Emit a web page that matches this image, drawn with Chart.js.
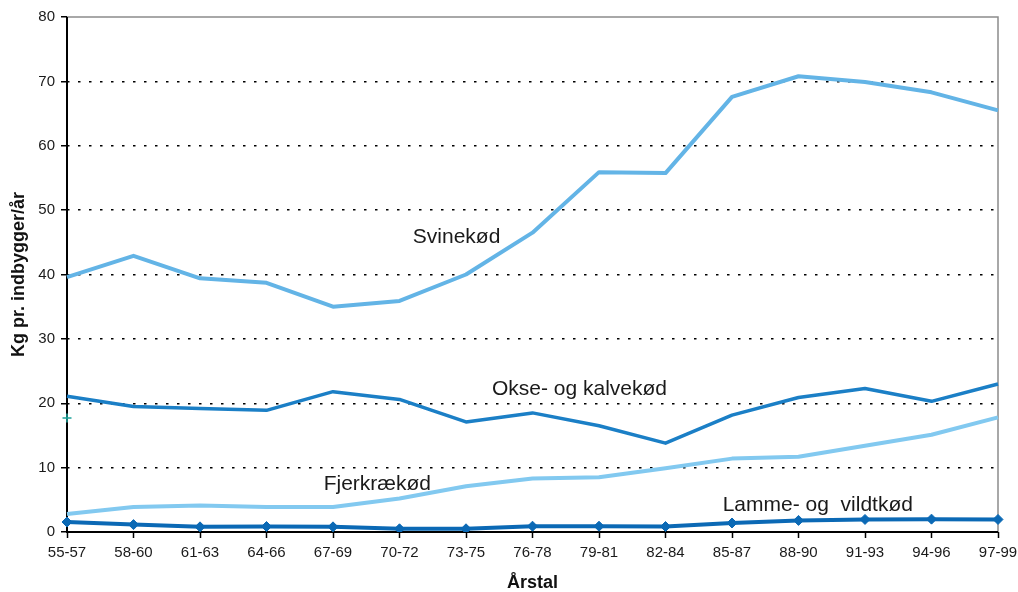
<!DOCTYPE html>
<html>
<head>
<meta charset="utf-8">
<script src="https://cdn.jsdelivr.net/npm/chart.js@4/dist/chart.umd.min.js"></script>
<style>
  html, body { margin: 0; padding: 0; background: #ffffff; }
  canvas { display: block; }
</style>
</head>
<body>
<canvas id="chart" width="1018" height="592"></canvas>
<script>
// Meat consumption per inhabitant, three-year averages
const periods = ['55-57', '58-60', '61-63', '64-66', '67-69', '70-72', '73-75', '76-78',
                 '79-81', '82-84', '85-87', '88-90', '91-93', '94-96', '97-99'];
const svinekod  = [39.6, 42.9, 39.4, 38.7, 35.0, 35.9, 40.0, 46.5, 55.9, 55.75, 67.6, 70.8, 69.9, 68.3, 65.5];
const oksekod   = [21.1, 19.5, 19.2, 18.9, 21.8, 20.6, 17.1, 18.5, 16.5, 13.8, 18.15, 20.9, 22.3, 20.3, 23.0];
const fjerkrae  = [2.8, 3.9, 4.1, 3.9, 3.9, 5.2, 7.1, 8.3, 8.5, 9.9, 11.4, 11.7, 13.4, 15.1, 17.8];
const lammekod  = [1.55, 1.15, 0.8, 0.85, 0.8, 0.5, 0.5, 0.9, 0.9, 0.85, 1.4, 1.8, 1.95, 2.0, 1.95];
const enkeltPunkt = [17.7, null, null, null, null, null, null, null, null, null, null, null, null, null, null];
const yTicks = [0, 10, 20, 30, 40, 50, 60, 70, 80];

const seriesNames = ['Svinekød', 'Okse- og kalvekød', 'Fjerkrækød', 'Lamme- og  vildtkød'];
// where each series name is written: [category index, value]
const nameAnchors = [[5.2, 45.8], [6.39, 22.2], [3.86, 7.5], [9.86, 4.2]];

const frameAndNames = {
  id: 'frameAndNames',
  beforeDatasetsDraw(chart) {
    const { ctx, chartArea: a } = chart;
    ctx.save();
    // grey frame on top and right
    ctx.strokeStyle = '#8c8c8c';
    ctx.lineWidth = 1.5;
    ctx.beginPath();
    ctx.moveTo(a.left, a.top);
    ctx.lineTo(a.right, a.top);
    ctx.lineTo(a.right, a.bottom);
    ctx.stroke();
    // black axes on left and bottom
    ctx.strokeStyle = '#000000';
    ctx.lineWidth = 2;
    ctx.beginPath();
    ctx.moveTo(a.left, a.top);
    ctx.lineTo(a.left, a.bottom);
    ctx.lineTo(a.right, a.bottom);
    ctx.stroke();
    ctx.restore();
  },
  afterDraw(chart) {
    const { ctx, scales } = chart;
    ctx.save();
    ctx.font = '21px "Liberation Sans", Arial, sans-serif';
    ctx.fillStyle = '#1a1a1a';
    ctx.textAlign = 'left';
    ctx.textBaseline = 'middle';
    seriesNames.forEach((name, i) => {
      const [ix, v] = nameAnchors[i];
      ctx.fillText(name, scales.x.getPixelForValue(ix), scales.y.getPixelForValue(v));
    });
    ctx.restore();
  }
};

const lineBase = { tension: 0, pointRadius: 0, pointHoverRadius: 0, fill: false, borderCapStyle: 'butt', borderJoinStyle: 'round' };

new Chart(document.getElementById('chart'), {
  type: 'line',
  data: {
    labels: periods,
    datasets: [
      { ...lineBase, label: seriesNames[0], data: svinekod, borderColor: '#63b4e6', borderWidth: 4 },
      { ...lineBase, label: seriesNames[1], data: oksekod, borderColor: '#1b7fc6', borderWidth: 3.5 },
      { ...lineBase, label: seriesNames[2], data: fjerkrae, borderColor: '#82c9f0', borderWidth: 4 },
      { ...lineBase, label: seriesNames[3], data: lammekod, borderColor: '#0b69b5', borderWidth: 4,
        pointRadius: 5, pointStyle: 'rectRot', pointBackgroundColor: '#0b69b5', pointBorderColor: '#0b69b5', pointBorderWidth: 1 },
      { label: '', data: enkeltPunkt, showLine: false, pointStyle: 'cross', pointRadius: 4.5,
        pointBorderColor: '#1fa39a', pointBorderWidth: 1.5, borderColor: '#1fa39a' }
    ]
  },
  options: {
    responsive: false,
    animation: false,
    devicePixelRatio: 1,
    layout: { padding: { top: 17, right: 20, left: 0, bottom: 0 } },
    plugins: { legend: { display: false }, tooltip: { enabled: false } },
    scales: {
      x: {
        type: 'category',
        offset: false,
        afterFit(s) { s.height = 60; s.paddingLeft = 0; s.paddingRight = 0; },
        grid: { drawOnChartArea: false, drawTicks: true, tickLength: 6, tickColor: '#000000', tickWidth: 1.5 },
        border: { display: false },
        ticks: { color: '#1a1a1a', padding: 6, maxRotation: 0, autoSkip: false,
                 font: { family: '"Liberation Sans", Arial, sans-serif', size: 15 } },
        title: { display: true, text: 'Årstal', color: '#111111', padding: 0,
                 font: { family: '"Liberation Sans", Arial, sans-serif', size: 18, weight: 'bold', lineHeight: 1 } }
      },
      y: {
        min: 0, max: 80,
        afterFit(s) { s.width = 67; s.paddingTop = 0; s.paddingBottom = 0; },
        afterBuildTicks(s) { s.ticks = yTicks.map(v => ({ value: v })); },
        grid: {
          drawTicks: true, tickLength: 6, tickWidth: 1.5, tickColor: '#000000',
          lineWidth: 1.5,
          color: c => (c.tick && (c.tick.value === 0 || c.tick.value === 80)) ? 'rgba(0,0,0,0)' : '#000000'
        },
        border: { display: false, dash: [2.5, 8.5] },
        ticks: { color: '#1a1a1a', padding: 6,
                 font: { family: '"Liberation Sans", Arial, sans-serif', size: 15 } },
        title: { display: true, text: 'Kg pr. indbygger/år', color: '#111111', padding: { top: 8, bottom: 0 },
                 font: { family: '"Liberation Sans", Arial, sans-serif', size: 18, weight: 'bold' } }
      }
    }
  },
  plugins: [frameAndNames]
});
</script>
</body>
</html>
